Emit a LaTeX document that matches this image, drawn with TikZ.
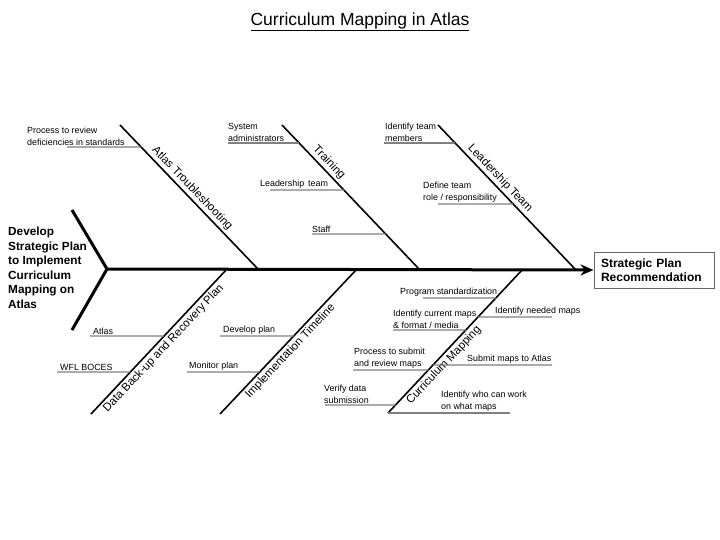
\documentclass[tikz,border=0pt]{standalone}
\usepackage{fontspec}
\setmainfont{Liberation Sans}
\usetikzlibrary{arrows.meta,calc}

\begin{document}
\begin{tikzpicture}[x=1pt,y=-1pt, >=Stealth,
    spine/.style={draw=black,line width=3pt},
    bone/.style={draw=black,line width=1.6pt},
    twig/.style={draw=black!50,line width=1.3pt},
    cause/.style={font=\fontsize{8.9}{12}\selectfont,inner sep=0pt,anchor=south west,align=left},
    bonelabel/.style={font=\fontsize{11.5}{13}\selectfont,sloped,inner sep=2pt},
    effect/.style={rectangle,draw=black!60,line width=1pt,minimum width=120pt,minimum height=36pt,text width=106pt,align=left,font=\bfseries\fontsize{12}{14}\selectfont}]
    \useasboundingbox (0,0) rectangle (720,540);
    \node (title) at (360,21.5) {\fontsize{17.5}{20}\selectfont\underline{Curriculum Mapping in Atlas}};
    % head and spine
    \node[anchor=north west,inner sep=0pt,align=left,font=\bfseries\fontsize{11.8}{14.5}\selectfont] (goal) at (8,227) {Develop\\Strategic Plan\\to Implement\\Curriculum\\Mapping on\\Atlas};
    \node[effect] (res) at (654,270) {Strategic Plan\\Recommendation};
    \coordinate (hu) at (72,210); \coordinate (hd) at (72,330); \coordinate (h) at (107,269);
    \path[spine] (hu)--(h)--(hd);
    \path[spine,-{Stealth[length=13pt,width=11pt]}] (h)--(res.west);
    % upper bones
    \coordinate (at) at (120,125); \coordinate (ab) at (258,269);
    \coordinate (tt) at (282,125); \coordinate (tb) at (419,269);
    \coordinate (lt) at (438,125); \coordinate (lb) at (575,269);
    \path[bone] (at)--(ab) node[bonelabel,pos=.48,above] {Atlas Troubleshooting};
    \path[bone] (tt)--(tb) node[bonelabel,pos=.30,above] {Training};
    \path[bone] (lt)--(lb) node[bonelabel,pos=.41,above] {Leadership Team};
    % lower bones
    \coordinate (db) at (91,414); \coordinate (dt) at (227,269);
    \coordinate (ib) at (220,414); \coordinate (it) at (357,269);
    \coordinate (cb) at (388,413); \coordinate (ct) at (523,269);
    \path[bone] (db)--(dt) node[bonelabel,pos=.49,below] {Data Back-up and Recovery Plan};
    \path[bone] (ib)--(it) node[bonelabel,pos=.47,below] {Implementation Timeline};
    \path[bone] (cb)--(ct) node[bonelabel,pos=.37,below] {Curriculum Mapping};
    % causes, upper side
    \coordinate (a1) at ($(at)!.153!(ab)$); \coordinate (a1e) at (67,147);
    \node[cause] (c1) at (27,145.5) {Process to review\\deficiencies in standards};
    \coordinate (t1) at ($(tt)!.125!(tb)$); \coordinate (t1e) at (228,143);
    \node[cause] (c2) at (228,141.5) {System\\administrators};
    \coordinate (t2) at ($(tt)!.451!(tb)$); \coordinate (t2e) at (270,190);
    \node[cause] (c3) at (260,188.5) {Leadership\,\ team};
    \coordinate (t3) at ($(tt)!.757!(tb)$); \coordinate (t3e) at (312,234);
    \node[cause] (c4) at (312,232.5) {Staff};
    \coordinate (l1) at ($(lt)!.125!(lb)$); \coordinate (l1e) at (384,143);
    \node[cause] (c5) at (385,141.5) {Identify team\\members};
    \coordinate (l2) at ($(lt)!.549!(lb)$); \coordinate (l2e) at (438,204);
    \node[cause] (c6) at (423,202.5) {Define team\\role / responsibility};
    \path[twig] (a1)--(a1e); \path[twig] (t1)--(t1e); \path[twig] (t2)--(t2e); \path[twig] (t3)--(t3e);
    \path[twig] (l1)--(l1e); \path[twig] (l2)--(l2e);
    % causes, lower side
    \coordinate (d1) at ($(db)!.538!(dt)$); \coordinate (d1e) at (90,336);
    \node[cause] (c7) at (93,334.5) {Atlas};
    \coordinate (d2) at ($(db)!.290!(dt)$); \coordinate (d2e) at (57,372);
    \node[cause] (c8) at (60,370.5) {WFL BOCES};
    \coordinate (i1) at ($(ib)!.538!(it)$); \coordinate (i1e) at (220,336);
    \node[cause] (c9) at (223,334.5) {Develop plan};
    \coordinate (i2) at ($(ib)!.290!(it)$); \coordinate (i2e) at (187,372);
    \node[cause] (c10) at (189,370.5) {Monitor plan};
    \coordinate (m1) at ($(cb)!.799!(ct)$); \coordinate (m1e) at (423,298);
    \node[cause] (c11) at (400,296.5) {Program standardization};
    \coordinate (m2) at ($(cb)!.667!(ct)$); \coordinate (m2e) at (552,317);
    \node[cause] (c12) at (495,315.5) {Identify needed maps};
    \coordinate (m3) at ($(cb)!.576!(ct)$); \coordinate (m3e) at (393,330);
    \node[cause] (c13) at (393,328.5) {Identify current maps\\\& format / media};
    \coordinate (m4) at ($(cb)!.333!(ct)$); \coordinate (m4e) at (552,365);
    \node[cause] (c14) at (467,363.5) {Submit maps to Atlas};
    \coordinate (m5) at ($(cb)!.299!(ct)$); \coordinate (m5e) at (353,370);
    \node[cause] (c15) at (354,368.5) {Process to submit\\and review maps};
    \coordinate (m6) at ($(cb)!.056!(ct)$); \coordinate (m6e) at (325,405);
    \node[cause] (c16) at (324,403.5) {Verify data\\submission};
    \coordinate (m7e) at (510,413);
    \node[cause] (c17) at (441,411.5) {Identify who can work\\on what maps};
    \path[twig] (d1)--(d1e); \path[twig] (d2)--(d2e); \path[twig] (i1)--(i1e); \path[twig] (i2)--(i2e);
    \path[twig] (m1)--(m1e); \path[twig] (m2)--(m2e); \path[twig] (m3)--(m3e); \path[twig] (m4)--(m4e);
    \path[twig] (m5)--(m5e); \path[twig] (m6)--(m6e); \path[twig] (cb)--(m7e);
\end{tikzpicture}
\end{document}
